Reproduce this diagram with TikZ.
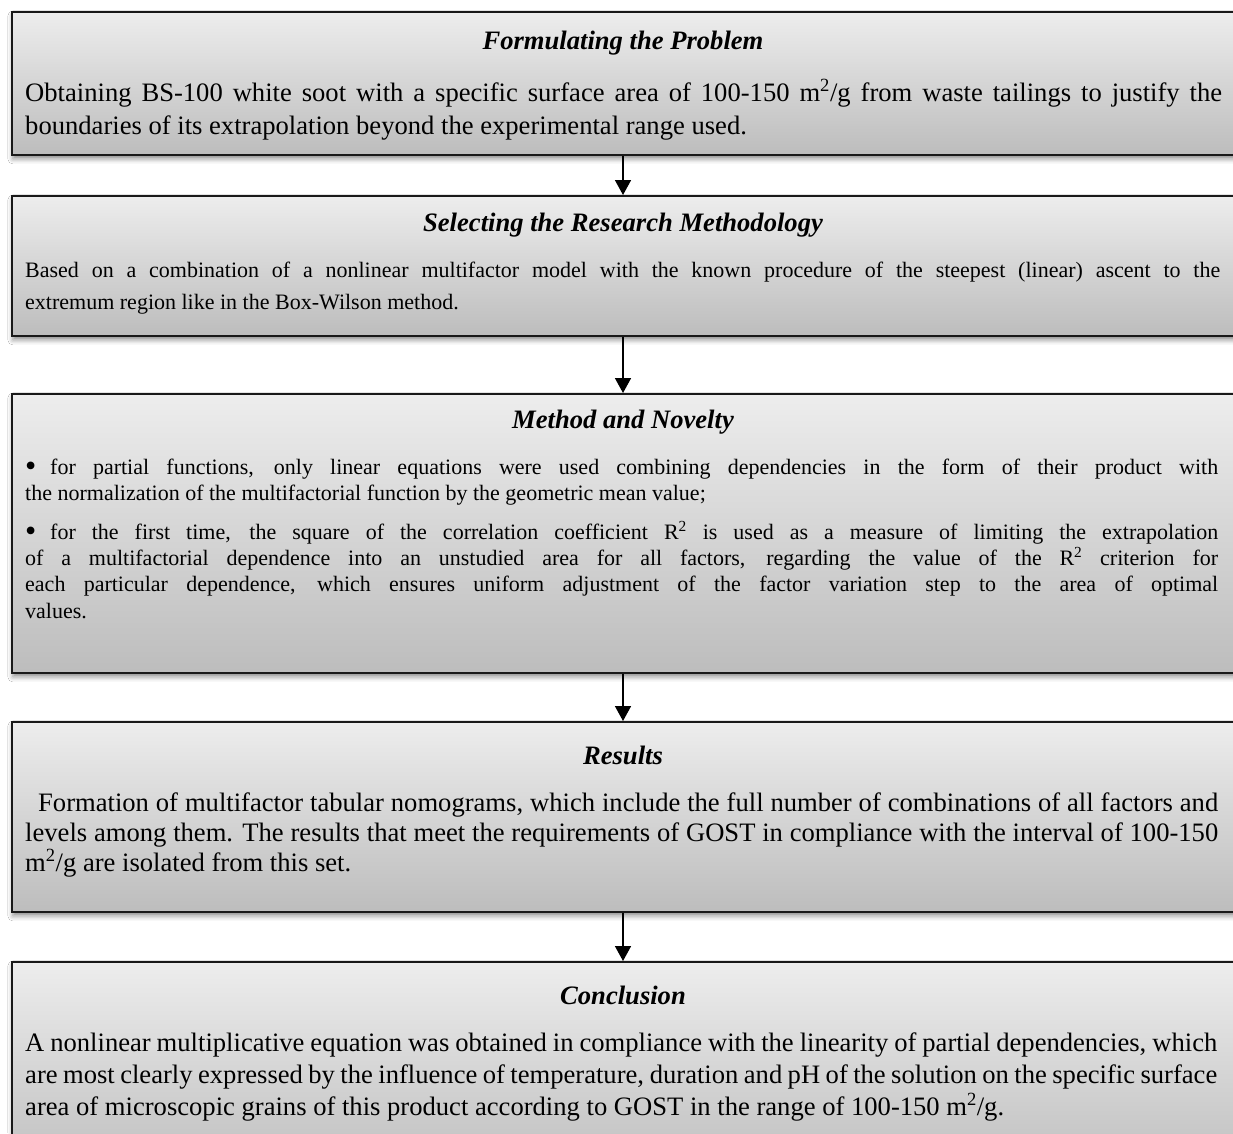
\documentclass[tikz,border=0pt]{standalone}
\usepackage{fontspec}
\setmainfont{Liberation Serif}
\usetikzlibrary{arrows.meta,shadows.blur}
\newcommand\fA{\fontsize{26.6}{32}\selectfont}
\newcommand\fB{\fontsize{22}{27}\selectfont}
\newcommand\jl[2]{\makebox[#1][s]{#2}}
\newcommand\bul{\makebox[25pt][l]{\raisebox{-2.5pt}{\fontsize{32}{32}\selectfont •}}}
\begin{document}
\begin{tikzpicture}[x=1pt,y=-1pt,
  panel/.style={draw=black!90, line width=1.8pt, top color=black!7, bottom color=black!26,
    rectangle, anchor=north west, inner sep=0pt, minimum width=1250pt,
    blur shadow={shadow xshift=1pt, shadow yshift=-4pt, shadow blur radius=5pt, shadow opacity=45}},
  ttl/.style={anchor=base, inner sep=0pt, font=\fA\bfseries\itshape},
  lnA/.style={anchor=base west, inner sep=0pt, font=\fA},
  lnB/.style={anchor=base west, inner sep=0pt, font=\fB},
  flow/.style={line width=1.6pt, -{Triangle[width=16pt,length=15pt]}}]
\useasboundingbox (0,0) rectangle (1233,1133);
\fill[white] (0,0) rectangle (1233,1133);
% panels
\node[panel, minimum height=143pt] (b1) at (11,11) {};
\node[panel, minimum height=140pt] (b2) at (11,195) {};
\node[panel, minimum height=279pt] (b3) at (11,393) {};
\node[panel, minimum height=190pt] (b4) at (11,721) {};
\node[panel, minimum height=220pt] (b5) at (11,961) {};
% connectors
\coordinate (ax) at (623,0);
\draw[flow] (b1.south -| ax) -- (b2.north -| ax);
\draw[flow] (b2.south -| ax) -- (b3.north -| ax);
\draw[flow] (b3.south -| ax) -- (b4.north -| ax);
\draw[flow] (b4.south -| ax) -- (b5.north -| ax);
% box 1
\node[ttl] (t1) at (623,49) {Formulating the Problem};
\node[lnA] (l11) at (25,101) {\jl{1197pt}{Obtaining BS-100 white soot with a specific surface area of 100-150 m\textsuperscript{2}/g from waste tailings to justify the}};
\node[lnA] (l12) at (25,134) {boundaries of its extrapolation beyond the experimental range used.};
% box 2
\node[ttl] (t2) at (623,231) {Selecting the Research Methodology};
\node[lnB] (l21) at (25,277) {\jl{1195pt}{Based on a combination of a nonlinear multifactor model with the known procedure of the steepest (linear) ascent to the}};
\node[lnB] (l22) at (25,309) {extremum region like in the Box-Wilson method.};
% box 3
\node[ttl] (t3) at (623,428) {Method and Novelty};
\node[lnB] (l31) at (25,474) {\jl{1193pt}{\bul for partial functions, only linear equations were used combining dependencies in the form of their product with}};
\node[lnB] (l32) at (25,500) {the normalization of the multifactorial function by the geometric mean value;};
\node[lnB] (l33) at (25,539) {\jl{1193pt}{\bul for the first time, the square of the correlation coefficient R\textsuperscript{2} is used as a measure of limiting the extrapolation}};
\node[lnB] (l34) at (25,565) {\jl{1193pt}{of a multifactorial dependence into an unstudied area for all factors, regarding the value of the R\textsuperscript{2} criterion for}};
\node[lnB] (l35) at (25,591) {\jl{1193pt}{each particular dependence, which ensures uniform adjustment of the factor variation step to the area of optimal}};
\node[lnB] (l36) at (25,618) {values.};
% box 4
\node[ttl] (t4) at (623,764) {Results};
\node[lnA] (l41) at (38,811) {\jl{1180pt}{Formation of multifactor tabular nomograms, which include the full number of combinations of all factors and}};
\node[lnA] (l42) at (25,841) {\jl{1193pt}{levels among them. The results that meet the requirements of GOST in compliance with the interval of 100-150}};
\node[lnA] (l43) at (25,871) {m\textsuperscript{2}/g are isolated from this set.};
% box 5
\node[ttl] (t5) at (623,1004) {Conclusion};
\node[lnA] (l51) at (25,1051) {\jl{1192pt}{A nonlinear multiplicative equation was obtained in compliance with the linearity of partial dependencies, which}};
\node[lnA] (l52) at (25,1083) {\jl{1192pt}{are most clearly expressed by the influence of temperature, duration and pH of the solution on the specific surface}};
\node[lnA] (l53) at (25,1115) {area of microscopic grains of this product according to GOST in the range of 100-150 m\textsuperscript{2}/g.};
\end{tikzpicture}
\end{document}
